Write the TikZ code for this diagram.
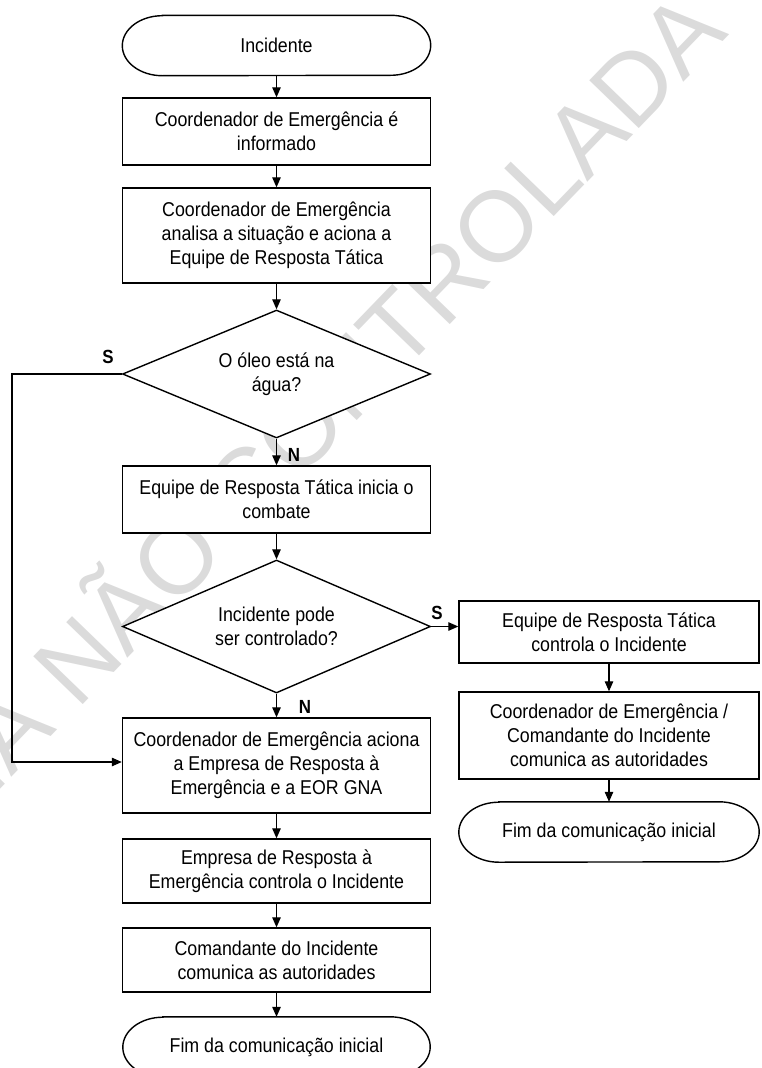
\documentclass[tikz,border=0pt]{standalone}
\usepackage{fontspec}
\setmainfont{Liberation Sans}[FakeStretch=0.89]
\newfontfamily\wmfont{Liberation Sans}
\usetikzlibrary{shapes.geometric,arrows.meta}
\pgfdeclarelayer{wmlayer}
\pgfdeclarelayer{bglayer}
\pgfsetlayers{wmlayer,bglayer,main}
\newcommand\drawterm[1]{%
  \draw[line width=1.4pt, fill=white]
    ([xshift=40pt]#1.north west) -- ([xshift=-40pt]#1.north east)
    arc[start angle=90,end angle=-90,x radius=40pt,y radius=30pt]
    -- ([xshift=40pt]#1.south west)
    arc[start angle=270,end angle=90,x radius=40pt,y radius=30pt] -- cycle;}
\begin{document}
\begin{tikzpicture}[x=1pt,y=-1pt,
  every node/.style={font=\fontsize{20}{24}\selectfont, text=black},
  proc/.style={rectangle, draw, fill=white, line width=1.4pt, align=center,
    inner sep=0pt, minimum width=308pt},
  dec/.style={diamond, draw, fill=white, line width=1.4pt, align=center,
    inner sep=0pt, aspect=2.4, minimum width=308pt},
  termbox/.style={rectangle, align=center, inner sep=0pt, minimum width=308pt,
    minimum height=60pt},
  lbl/.style={font=\fontsize{19}{20}\selectfont\bfseries},
  conn/.style={line width=1.2pt, -{Triangle[length=10pt,width=8.5pt]}},
  wm/.style={anchor=base west, rotate=46, inner sep=0pt,
    font=\wmfont\fontsize{100}{100}\selectfont, text=black!14}
  ]
\useasboundingbox (0,0) rectangle (762,1068);

\begin{pgfonlayer}{wmlayer}
  \node[wm] (wmark) at (-158,954) {CÓPIA NÃO CONTROLADA};
\end{pgfonlayer}

% main column
\node[termbox] (t1) at (276.5,45.5) {Incidente};
\node[proc, minimum height=67pt] (b1) at (276.5,131.5)
  {Coordenador de Emergência é\\informado};
\node[proc, minimum height=95pt] (b2) at (276.5,235.5)
  {Coordenador de Emergência\\analisa a situação e aciona a\\Equipe de Resposta Tática};
\node[dec, minimum height=128pt] (d1) at (276.5,374)
  {O óleo está na\\água?};
\node[proc, minimum height=67pt] (b3) at (276.5,499.5)
  {Equipe de Resposta Tática inicia o\\combate};
\node[dec, minimum height=133pt] (d2) at (276.5,626.5)
  {Incidente pode\\ser controlado?};
\node[proc, minimum height=95pt] (b4) at (276.5,765.5)
  {Coordenador de Emergência aciona\\a Empresa de Resposta à\\Emergência e a EOR GNA};
\node[proc, minimum height=64pt] (b5) at (276.5,871)
  {Empresa de Resposta à\\Emergência controla o Incidente};
\node[proc, minimum height=64pt] (b6) at (276.5,960)
  {Comandante do Incidente\\comunica as autoridades};
\node[termbox, minimum width=307pt] (t2) at (276.5,1047) {Fim da comunicação inicial};

% right column
\node[proc, minimum width=300pt, minimum height=62pt] (r1) at (609,632)
  {Equipe de Resposta Tática\\controla o Incidente};
\node[proc, minimum width=300pt, minimum height=87pt] (r2) at (609,735.5)
  {Coordenador de Emergência /\\Comandante do Incidente\\comunica as autoridades};
\node[termbox, minimum width=300pt] (t3) at (609,832) {Fim da comunicação inicial};

\begin{pgfonlayer}{bglayer}
  \drawterm{t1}
  \drawterm{t2}
  \drawterm{t3}
\end{pgfonlayer}

% labels
\node[lbl] (s1) at (108,357) {S};
\node[lbl] (n1) at (294,455) {N};
\node[lbl] (n2) at (305,707) {N};
\node[lbl] (s2) at (437,613) {S};

% connectors
\draw[conn] (t1.south) -- (b1.north);
\draw[conn] (b1.south) -- (b2.north);
\draw[conn] (b2.south) -- (d1.north);
\draw[conn] (d1.south) -- (b3.north);
\draw[conn] (b3.south) -- (d2.north);
\draw[conn] (d2.south) -- (b4.north);
\draw[conn] (b4.south) -- (b5.north);
\draw[conn] (b5.south) -- (b6.north);
\draw[conn] (b6.south) -- (t2.north);
\draw[conn] (d2.east) -- (d2.east -| r1.west);
\draw[conn] (r1.south) -- (r2.north);
\draw[conn] (r2.south) -- (t3.north);
\coordinate (lft) at (12,762);
\draw[conn] (d1.west) -| (lft) -- (lft -| b4.west);
\end{tikzpicture}
\end{document}
